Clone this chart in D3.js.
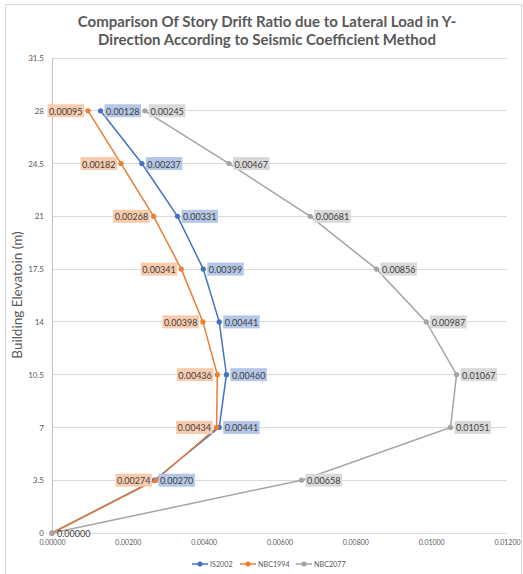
<!DOCTYPE html>
<html><head><meta charset="utf-8">
<script src="https://cdn.jsdelivr.net/npm/d3@7/dist/d3.min.js"></script>
<style>body{margin:0;background:#fff}svg{display:block}</style>
</head><body><svg id="c" width="523" height="574"></svg>
<script>
const heights = [0, 3.5, 7, 10.5, 14, 17.5, 21, 24.5, 28];
const is2002  = [0, 0.00270, 0.00441, 0.00460, 0.00441, 0.00399, 0.00331, 0.00237, 0.00128];
const nbc1994 = [0, 0.00274, 0.00434, 0.00436, 0.00398, 0.00341, 0.00268, 0.00182, 0.00095];
const nbc2077 = [0, 0.00658, 0.01051, 0.01067, 0.00987, 0.00856, 0.00681, 0.00467, 0.00245];
const seriesNames = ["IS2002", "NBC1994", "NBC2077"];
const xTicks = [0, 0.002, 0.004, 0.006, 0.008, 0.010, 0.012];
const yTicks = [0, 3.5, 7, 10.5, 14, 17.5, 21, 24.5, 28, 31.5];
const titleLines = ["Comparison Of Story Drift Ratio due to Lateral Load in Y-", "Direction According to Seismic Coefficient Method"];
const yTitle = "Building Elevatoin (m)";

const colors = ["#4472C4", "#ED7D31", "#A5A5A5"];
const fills = ["#B4C7E7", "#F8CBAD", "#D9D9D9"];
const sides = [1, -1, 1];
const data = [is2002, nbc1994, nbc2077];

const svg = d3.select("#c");
const font = "Lato, 'Open Sans', sans-serif";
svg.append("rect").attr("x", 5.5).attr("y", 4.5).attr("width", 516).attr("height", 575)
  .attr("fill", "#fff").attr("stroke", "#D9D9D9");

const x = d3.scaleLinear().domain([0, 0.012]).range([52, 507]);
const y = d3.scaleLinear().domain([0, 31.5]).range([533, 58]);

const g = svg.append("g");
g.selectAll("line.grid").data(yTicks).join("line")
  .attr("x1", x(0)).attr("x2", x(0.012)).attr("y1", d => y(d)).attr("y2", d => y(d))
  .attr("stroke", "#D9D9D9").attr("stroke-width", 1).attr("shape-rendering", "crispEdges");
g.append("line").attr("x1", x(0)).attr("x2", x(0)).attr("y1", y(31.5)).attr("y2", y(0))
  .attr("stroke", "#BFBFBF").attr("shape-rendering", "crispEdges");

const ax = svg.append("g").attr("transform", `translate(0,${y(0)})`)
  .call(d3.axisBottom(x).tickValues(xTicks).tickFormat(d3.format(".5f")).tickSize(0).tickPadding(7));
const ay = svg.append("g").attr("transform", `translate(${x(0)},0)`)
  .call(d3.axisLeft(y).tickValues(yTicks).tickFormat(d => String(d)).tickSize(0).tickPadding(8));
[ax, ay].forEach(a => a.select(".domain").remove());
ax.selectAll("text").attr("fill", "#595959").attr("font-family", font).attr("font-size", 7);
ay.selectAll("text").attr("fill", "#595959").attr("font-family", font).attr("font-size", 8);

svg.selectAll("text.title").data(titleLines).join("text")
  .attr("x", 267).attr("y", (d, i) => 27 + i * 18).attr("text-anchor", "middle")
  .attr("font-family", font).attr("font-weight", "bold").attr("font-size", 15)
  .attr("fill", "#595959").text(d => d);

svg.append("text").attr("transform", "translate(22,295) rotate(-90)").attr("text-anchor", "middle")
  .attr("font-family", font).attr("font-size", 13.5).attr("fill", "#595959").text(yTitle);

const line = d3.line().x(d => x(d[0])).y(d => y(d[1]));
data.forEach((vals, si) => {
  const pts = vals.map((v, i) => [v, heights[i]]);
  svg.append("path").datum(pts).attr("d", line).attr("fill", "none")
    .attr("stroke", colors[si]).attr("stroke-width", 1.5);
  svg.append("g").selectAll("circle").data(pts).join("circle")
    .attr("cx", d => x(d[0])).attr("cy", d => y(d[1])).attr("r", 2.6).attr("fill", colors[si]);
});

const fmt = d3.format(".5f");
data.forEach((vals, si) => {
  vals.forEach((v, i) => {
    if (i === 0) return;
    const px = x(v), py = y(heights[i]);
    const lg = svg.append("g");
    const t = lg.append("text").attr("font-family", font).attr("font-size", 9)
      .attr("fill", "#404040").attr("dominant-baseline", "central").text(fmt(v));
    const w = t.node().getComputedTextLength() + 3;
    const bx = sides[si] > 0 ? px + 4 : px - 4 - w;
    lg.insert("rect", "text").attr("x", bx).attr("y", py - 6.5).attr("width", w).attr("height", 13)
      .attr("fill", fills[si]);
    t.attr("x", bx + 1.5).attr("y", py + 0.5);
  });
});
svg.append("text").attr("x", 57).attr("y", y(0) + 0.5).attr("dominant-baseline", "central")
  .attr("font-family", font).attr("font-size", 9).attr("fill", "#404040").text(fmt(0));

const lx = [192, 240, 296];
seriesNames.forEach((n, i) => {
  const lgd = svg.append("g");
  lgd.append("line").attr("x1", lx[i]).attr("x2", lx[i] + 16).attr("y1", 564).attr("y2", 564)
    .attr("stroke", colors[i]).attr("stroke-width", 1.5);
  lgd.append("circle").attr("cx", lx[i] + 8).attr("cy", 564).attr("r", 2.6).attr("fill", colors[i]);
  lgd.append("text").attr("x", lx[i] + 18).attr("y", 564).attr("dominant-baseline", "central")
    .attr("font-family", font).attr("font-size", 7.2).attr("fill", "#595959").text(n);
});
</script></body></html>
